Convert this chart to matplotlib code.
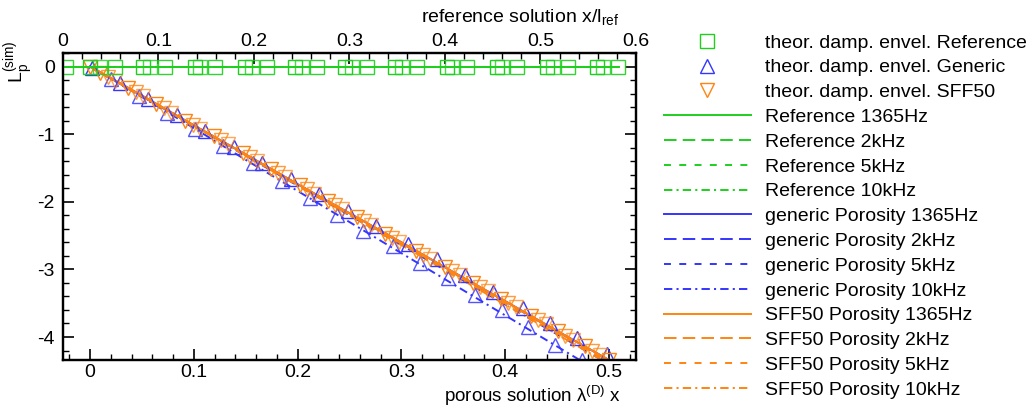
import matplotlib
matplotlib.use("Agg")
import matplotlib.pyplot as plt

plt.rcParams['font.family'] = ['Liberation Sans', 'DejaVu Sans']
plt.rcParams['axes.unicode_minus'] = False
plt.rcParams['lines.scale_dashes'] = False

GREEN = '#1ecf1e'
BLUE = '#3535ff'
ORANGE = '#ff8410'

# reference solution (top axis, x/l_ref)
ref_line_x = [0.0, 0.1, 0.2, 0.3, 0.4, 0.5, 0.582]
ref_line_y = [0.0, 0.0, 0.0, 0.0, 0.0, 0.0, 0.0]
ref_sq_a = [0.028, 0.084, 0.138, 0.191, 0.243, 0.295, 0.348, 0.402, 0.454, 0.507, 0.559]
ref_sq_b = [0.039, 0.091, 0.143, 0.198, 0.250, 0.303, 0.355, 0.407, 0.460, 0.513, 0.565]
ref_sq_c = [0.003, 0.054, 0.107, 0.159, 0.214, 0.266, 0.318, 0.371, 0.423, 0.475, 0.529, 0.581]

# porous solutions (bottom axis, lambda x)
line_x = [0.0, 0.05, 0.10, 0.15, 0.20, 0.25, 0.30, 0.35, 0.40, 0.45, 0.50]
gen_1365 = [0.0, -0.43, -0.87, -1.30, -1.74, -2.17, -2.60, -3.04, -3.47, -3.91, -4.34]
gen_2k = [0.0, -0.44, -0.87, -1.31, -1.74, -2.18, -2.61, -3.05, -3.48, -3.92, -4.35]
gen_5k = [0.0, -0.44, -0.88, -1.32, -1.76, -2.20, -2.64, -3.08, -3.52, -3.96, -4.40]
gen_10k = [0.0, -0.45, -0.91, -1.38, -1.84, -2.30, -2.76, -3.22, -3.68, -4.14, -4.60]
sff_1365 = [0.0, -0.43, -0.87, -1.30, -1.74, -2.17, -2.60, -3.04, -3.47, -3.91, -4.34]
sff_2k = [0.0, -0.43, -0.87, -1.31, -1.74, -2.18, -2.61, -3.05, -3.48, -3.92, -4.35]
sff_5k = [0.0, -0.44, -0.87, -1.31, -1.75, -2.19, -2.62, -3.06, -3.50, -3.94, -4.37]
sff_10k = [0.0, -0.44, -0.88, -1.32, -1.76, -2.20, -2.64, -3.08, -3.52, -3.96, -4.40]

gen_mk_x1 = [0.002, 0.029, 0.056, 0.084, 0.111, 0.139, 0.166, 0.194, 0.221, 0.249,
             0.276, 0.306, 0.334, 0.361, 0.388, 0.417, 0.443, 0.469, 0.498]
gen_mk_y1 = [-0.02, -0.25, -0.48, -0.72, -0.95, -1.19, -1.42, -1.66, -1.89, -2.13,
             -2.36, -2.62, -2.85, -3.09, -3.33, -3.57, -3.79, -4.01, -4.25]
gen_mk_x2 = [0.020, 0.047, 0.074, 0.101, 0.128, 0.157, 0.185, 0.212, 0.238,
             0.263, 0.292, 0.318, 0.345, 0.371, 0.397, 0.422, 0.448, 0.474]
gen_mk_y2 = [-0.18, -0.43, -0.68, -0.93, -1.18, -1.43, -1.69, -1.94, -2.20,
             -2.43, -2.65, -2.91, -3.13, -3.38, -3.60, -3.85, -4.12, -4.34]

sff_mk_x1 = [0.000, 0.010, 0.037, 0.064, 0.092, 0.119, 0.147, 0.174, 0.202, 0.229,
             0.257, 0.284, 0.314, 0.342, 0.369, 0.396, 0.425, 0.451, 0.477, 0.500]
sff_mk_y1 = [0.00, -0.09, -0.32, -0.56, -0.80, -1.03, -1.28, -1.51, -1.75, -1.99,
             -2.23, -2.47, -2.73, -2.97, -3.20, -3.44, -3.69, -3.91, -4.14, -4.34]
sff_mk_x2 = [0.017, 0.044, 0.071, 0.099, 0.126, 0.154, 0.181, 0.209, 0.236,
             0.264, 0.291, 0.321, 0.349, 0.376, 0.403, 0.432, 0.458, 0.484]
sff_mk_y2 = [-0.15, -0.38, -0.62, -0.86, -1.09, -1.34, -1.57, -1.81, -2.05,
             -2.29, -2.53, -2.79, -3.03, -3.26, -3.50, -3.75, -3.98, -4.20]
sff_mk_x3 = [0.024, 0.051, 0.078, 0.106, 0.133, 0.161, 0.188, 0.216, 0.243,
             0.271, 0.298, 0.328, 0.356, 0.383, 0.410, 0.439, 0.465, 0.491]
sff_mk_y3 = [-0.21, -0.44, -0.68, -0.92, -1.15, -1.40, -1.63, -1.88, -2.11,
             -2.35, -2.59, -2.85, -3.09, -3.32, -3.56, -3.81, -4.04, -4.26]

styles = ['-', (0, (9, 4.5)), (0, (5, 6)), (0, (6, 3, 1.5, 3))]
freqs = ['1365Hz', '2kHz', '5kHz', '10kHz']
FS = 14

fig = plt.figure(figsize=(10.29, 4.07), dpi=100)
ax = fig.add_axes([63 / 1029, 47 / 407, 573 / 1029, 307 / 407])
ax2 = ax.twiny()

# bottom axis: porous solutions
for ys, ls, f in zip([gen_1365, gen_2k, gen_5k, gen_10k], styles, freqs):
    ax.plot(line_x, ys, color=BLUE, ls=ls, lw=1.4, label='generic Porosity ' + f)
for ys, ls, f in zip([sff_1365, sff_2k, sff_5k, sff_10k], styles, freqs):
    ax.plot(line_x, ys, color=ORANGE, ls=ls, lw=1.4, label='SFF50 Porosity ' + f)

tri_kw = dict(ls='none', mfc='none', ms=10, mew=1.0)
h_gen, = ax.plot(gen_mk_x1, gen_mk_y1, marker='^', color=BLUE, **tri_kw)
ax.plot(gen_mk_x2, gen_mk_y2, marker='^', color=BLUE, alpha=0.85, **tri_kw)
h_sff, = ax.plot(sff_mk_x1, sff_mk_y1, marker='v', color=ORANGE, **tri_kw)
ax.plot(sff_mk_x2, sff_mk_y2, marker='v', color=ORANGE, alpha=0.8, **tri_kw)
ax.plot(sff_mk_x3, sff_mk_y3, marker='v', color=ORANGE, alpha=0.7, **tri_kw)

# top axis: reference solution
ref_handles = []
for ls, f in zip(styles, freqs):
    h, = ax2.plot(ref_line_x, ref_line_y, color=GREEN, ls=ls, lw=1.4)
    ref_handles.append((h, 'Reference ' + f))
sq_kw = dict(ls='none', marker='s', mfc='none', ms=9.5, mew=1.0, color=GREEN)
h_ref, = ax2.plot(ref_sq_a, [0.0] * len(ref_sq_a), **sq_kw)
ax2.plot(ref_sq_b, [0.0] * len(ref_sq_b), alpha=0.8, **sq_kw)
ax2.plot(ref_sq_c, [0.0] * len(ref_sq_c), alpha=0.9, **sq_kw)

ax.set_xlim(-0.026, 0.526)
ax.set_ylim(-4.34, 0.17)
ax2.set_xlim(0, 0.6)

ax.set_xticks([0, 0.1, 0.2, 0.3, 0.4, 0.5])
ax.set_xticklabels(['0', '0.1', '0.2', '0.3', '0.4', '0.5'])
ax.set_xticks([i * 0.02 for i in range(-1, 27)], minor=True)
ax.set_yticks([0, -1, -2, -3, -4])
ax.set_yticks([-0.2 * i for i in range(22)] + [0.2], minor=True)
ax2.set_xticks([0, 0.1, 0.2, 0.3, 0.4, 0.5, 0.6])
ax2.set_xticklabels(['0', '0.1', '0.2', '0.3', '0.4', '0.5', '0.6'])
ax2.set_xticks([i * 0.02 for i in range(31)], minor=True)

ax.tick_params(axis='x', which='both', direction='in', top=False, labelsize=FS, pad=3)
ax.tick_params(axis='y', which='both', direction='in', right=True, labelsize=FS, pad=6)
ax2.tick_params(axis='x', which='both', direction='in', labelsize=FS, pad=2)
for a in (ax, ax2):
    a.tick_params(which='major', length=8, width=1.2)
    a.tick_params(which='minor', length=4, width=1.0)
    for s in a.spines.values():
        s.set_linewidth(1.6)

ax.text(0.974, -0.117, r'porous solution λ$^\mathregular{(D)}$ x', transform=ax.transAxes,
        ha='right', va='center', fontsize=13.5)
ax.text(0.970, 1.115, r'reference solution x/l$_\mathregular{ref}$', transform=ax.transAxes,
        ha='right', va='center', fontsize=FS)
ax.text(-0.077, 0.97, r'L$_\mathregular{p}^\mathregular{(sim)}$', transform=ax.transAxes,
        ha='center', va='center', rotation=90, fontsize=FS)

# legend
line_handles = [h for h, _ in ref_handles] + ax.get_lines()[:8]
line_labels = [l for _, l in ref_handles] + [l.get_label() for l in ax.get_lines()[:8]]
all_h = [h_ref, h_gen, h_sff] + line_handles
all_l = ['theor. damp. envel. Reference', 'theor. damp. envel. Generic',
         'theor. damp. envel. SFF50'] + line_labels
fig.legend(all_h, all_l, loc='upper left', bbox_to_anchor=(664 / 1029, 1 - 34 / 407),
           frameon=False, fontsize=FS, handlelength=4.45, handletextpad=0.72,
           labelspacing=0.37, borderpad=0, borderaxespad=0, numpoints=1)

fig.savefig('out.png', dpi=100)
